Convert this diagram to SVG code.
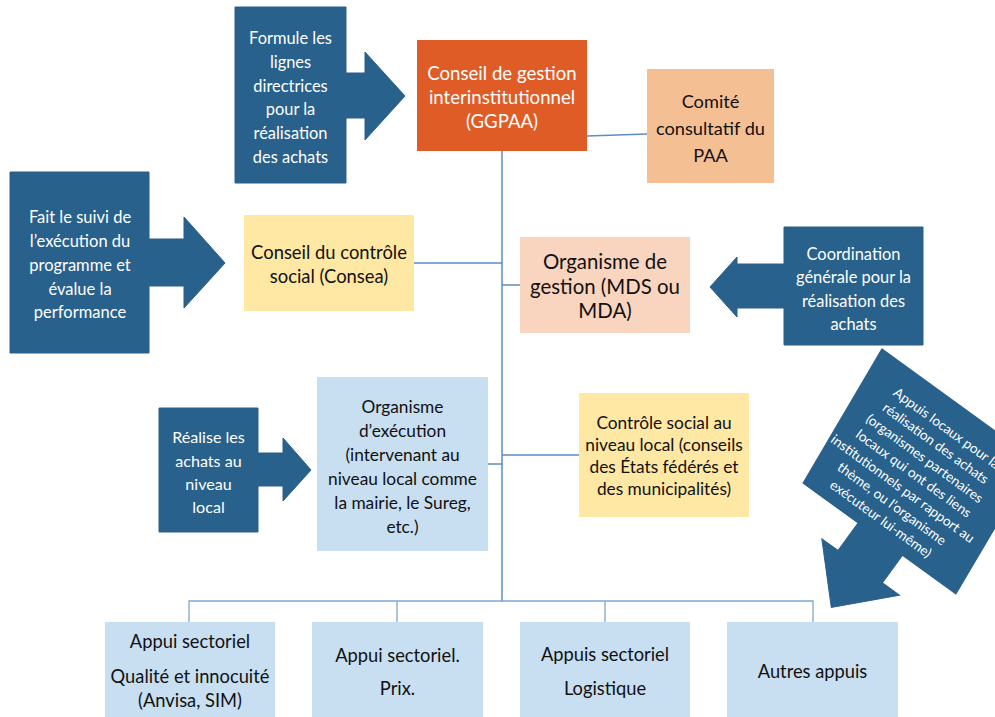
<svg xmlns="http://www.w3.org/2000/svg" width="995" height="717" viewBox="0 0 995 717">
<style>
.t{font-family:Lato,"Liberation Sans",sans-serif;text-anchor:middle}
.w{fill:#ffffff}
.k{fill:#111111}
.call{fill:#28618C;stroke:#2A5F8A;stroke-width:1}
.ln{stroke:#5B8CC0;stroke-width:1.5;fill:none}
.bus{stroke:#7FA8D2;stroke-width:1.3;fill:none}
.blue{fill:#C8DEF1}
.yel{fill:#FFE7A4}
</style>
<rect width="995" height="717" fill="#ffffff"/>
<g id="connectors">
<line class="ln" x1="502" y1="151" x2="502" y2="601.5"/>
<line class="ln" x1="587" y1="136" x2="647" y2="134"/>
<line class="ln" x1="414" y1="263" x2="502" y2="263"/>
<line class="ln" x1="502" y1="285" x2="520" y2="285"/>
<line class="ln" x1="488" y1="464" x2="502" y2="464"/>
<line class="ln" x1="502" y1="455" x2="579" y2="455"/>
<polyline class="bus" points="189,622 189,601 813,601 813,622"/>
<line class="bus" x1="397" y1="601" x2="397" y2="622"/>
<line class="bus" x1="605" y1="601" x2="605" y2="622"/>
</g>
<g id="ggpaa">
<rect x="417" y="40" width="170" height="111" fill="#E05C26"/>
<text class="t w" font-size="18.6"><tspan x="502" y="80">Conseil de gestion</tspan><tspan x="502" y="104">interinstitutionnel</tspan><tspan x="502" y="128">(GGPAA)</tspan></text>
</g>
<g id="comite">
<rect x="647" y="69" width="127" height="114" fill="#F5BF94"/>
<text class="t k" font-size="18.2"><tspan x="710.5" y="108">Comité</tspan><tspan x="710.5" y="135">consultatif du</tspan><tspan x="710.5" y="162">PAA</tspan></text>
</g>
<g id="formule">
<polygon class="call" points="235,7 346,7 346,73 365,73 365,52 405,96 365,140 365,118 346,118 346,183 235,183"/>
<text class="t w" font-size="16.4"><tspan x="290.5" y="44">Formule les</tspan><tspan x="290.5" y="68">lignes</tspan><tspan x="290.5" y="91.5">directrices</tspan><tspan x="290.5" y="115">pour la</tspan><tspan x="290.5" y="139">réalisation</tspan><tspan x="290.5" y="163">des achats</tspan></text>
</g>
<g id="suivi">
<polygon class="call" points="10,172 149,172 149,239 184,239 184,217 225,263 184,308 184,286 149,286 149,353 10,353"/>
<text class="t w" font-size="16.5"><tspan x="80" y="223">Fait le suivi de</tspan><tspan x="80" y="247">l’exécution du</tspan><tspan x="80" y="271">programme et</tspan><tspan x="80" y="294.5">évalue la</tspan><tspan x="80" y="318">performance</tspan></text>
</g>
<g id="consea">
<rect x="244" y="215" width="170" height="96" class="yel"/>
<text class="t k" font-size="18.4"><tspan x="329" y="259">Conseil du contrôle</tspan><tspan x="329" y="283">social (Consea)</tspan></text>
</g>
<g id="gestion">
<rect x="520" y="237" width="170" height="96" fill="#F9D4BE"/>
<text class="t k" font-size="20.4"><tspan x="605" y="269">Organisme de</tspan><tspan x="605" y="294">gestion (MDS ou</tspan><tspan x="605" y="318">MDA)</tspan></text>
</g>
<g id="coordination">
<polygon class="call" points="923,227 784,227 784,264 737,264 737,257 710,287 737,317 737,308 784,308 784,345 923,345"/>
<text class="t w" font-size="16.4"><tspan x="853.5" y="260">Coordination</tspan><tspan x="853.5" y="283">générale pour la</tspan><tspan x="853.5" y="306.5">réalisation des</tspan><tspan x="853.5" y="330">achats</tspan></text>
</g>
<g id="realise">
<polygon class="call" points="159,408 258,408 258,453 283,453 283,438 311,470 283,501 283,486 258,486 258,532 159,532"/>
<text class="t w" font-size="16.1"><tspan x="208.5" y="443">Réalise les</tspan><tspan x="208.5" y="466.5">achats au</tspan><tspan x="208.5" y="489.5">niveau</tspan><tspan x="208.5" y="513">local</tspan></text>
</g>
<g id="execution">
<rect x="317" y="377" width="171" height="174" class="blue"/>
<text class="t k" font-size="17.3"><tspan x="402.5" y="412.5">Organisme</tspan><tspan x="402.5" y="436.5">d’exécution</tspan><tspan x="402.5" y="460.5">(intervenant au</tspan><tspan x="402.5" y="484.5">niveau local comme</tspan><tspan x="402.5" y="509">la mairie, le Sureg,</tspan><tspan x="402.5" y="533">etc.)</tspan></text>
</g>
<g id="controle-local">
<rect x="579" y="393" width="170" height="124" class="yel"/>
<text class="t k" font-size="17.3"><tspan x="664" y="429">Contrôle social au</tspan><tspan x="664" y="450.5">niveau local (conseils</tspan><tspan x="664" y="472.5">des États fédérés et</tspan><tspan x="664" y="494.5">des municipalités)</tspan></text>
</g>
<g id="appuis-locaux" transform="translate(803,483) rotate(36)">
<polygon class="call" points="-15,-155 174,-155 189,0 123,0 123,34 144,34 96,84 48,34 68,34 68,0 0,0"/>
<text class="t w" font-size="13.6"><tspan x="84" y="-124">Appuis locaux pour la</tspan><tspan x="84" y="-105.3">réalisation des achats</tspan><tspan x="84" y="-86.7">(organismes partenaires</tspan><tspan x="84" y="-68">locaux qui ont des liens</tspan><tspan x="84" y="-49.3">institutionnels par rapport au</tspan><tspan x="84" y="-30.7">thème, ou l’organisme</tspan><tspan x="84" y="-12">exécuteur lui-même)</tspan></text>
</g>
<g id="qualite">
<rect x="105" y="622" width="170" height="98" class="blue"/>
<text class="t k" font-size="18.3"><tspan x="190" y="648">Appui sectoriel</tspan><tspan x="190" y="683">Qualité et innocuité</tspan><tspan x="190" y="707">(Anvisa, SIM)</tspan></text>
</g>
<g id="prix">
<rect x="312" y="622" width="171" height="98" class="blue"/>
<text class="t k" font-size="18.3"><tspan x="397.5" y="661.5">Appui sectoriel.</tspan><tspan x="397.5" y="694.5">Prix.</tspan></text>
</g>
<g id="logistique">
<rect x="520" y="622" width="170" height="98" class="blue"/>
<text class="t k" font-size="18.3"><tspan x="605" y="661">Appuis sectoriel</tspan><tspan x="605" y="694.5">Logistique</tspan></text>
</g>
<g id="autres">
<rect x="727" y="622" width="171" height="98" class="blue"/>
<text class="t k" font-size="18.3"><tspan x="812.5" y="677.5">Autres appuis</tspan></text>
</g>
</svg>
